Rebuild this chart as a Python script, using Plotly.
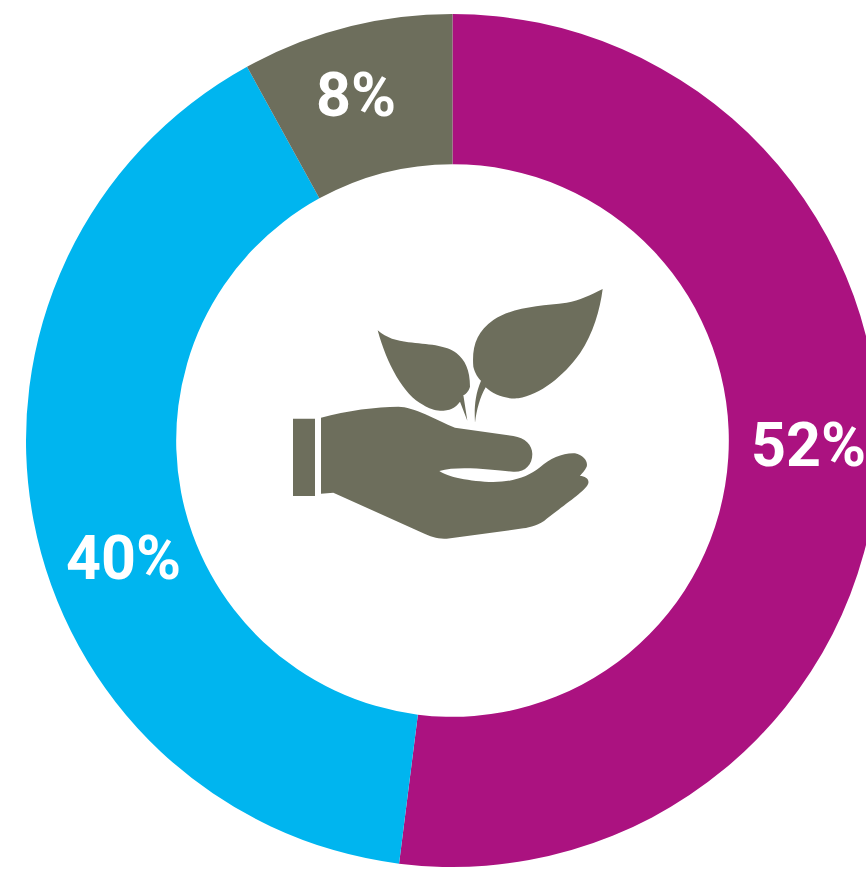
import re
import plotly.graph_objects as go

# Share of each group around the ring, clockwise from twelve o'clock
categories = ["A", "B", "C"]
shares = [52, 40, 8]
slice_colors = ["#AB1280", "#00B5EF", "#6D6E5C"]
share_labels = ["52%", "40%", "8%"]

ICON_COLOR = "#6D6E5C"
FIG_W, FIG_H = 905, 869
TOP, BOTTOM = 14, 2
PLOT_H = FIG_H - TOP - BOTTOM


def to_paper(px, py):
    return px / FIG_W, (FIG_H - BOTTOM - py) / PLOT_H


def icon_path(d):
    """Turn a path drawn on a 3x grid anchored at (280, 280) into paper coordinates."""
    is_x = True

    def convert(match):
        nonlocal is_x
        token = match.group(0)
        if token.isalpha():
            is_x = True
            return token
        value = float(token)
        if is_x:
            is_x = False
            return f"{(280 + value / 3) / FIG_W:.5f}"
        is_x = True
        return f"{(FIG_H - BOTTOM - (280 + value / 3)) / PLOT_H:.5f}"

    return re.sub(r"[A-Za-z]|-?\d+\.?\d*", convert, d)


# Open hand holding a seedling, placed in the hole of the ring
CUFF = "M39 416 L105 416 L105 648 L39 648 Z"
HAND = (
    "M123 413 C200 392 290 380 355 380 C400 380 470 420 525 443 L700 468 "
    "C735 473 757 495 757 522 C757 555 735 577 700 575 C650 572 540 555 478 573 "
    "C500 590 570 605 640 606 C700 606 745 590 780 562 C810 535 850 518 885 520 "
    "C910 525 925 545 920 560 C915 572 905 580 900 588 C915 588 928 597 925 610 "
    "C920 630 860 670 800 716 C780 735 750 742 730 745 L500 776 "
    "C475 778 450 770 430 760 L160 638 L123 641 Z"
)
SMALL_LEAF = (
    "M293 151 C320 175 350 182 385 187 C440 193 500 195 530 220 "
    "C555 240 570 270 570 320 C566 335 555 345 550 345 L562 422 L540 365 "
    "C525 385 510 392 480 392 C465 392 445 385 430 375 C370 345 320 250 293 151 Z"
)
BIG_LEAF = (
    "M968 27 C930 45 900 62 860 68 C780 78 700 80 640 120 C590 155 575 200 580 260 "
    "C585 280 595 295 603 302 C583 350 583 390 585 428 C590 390 600 350 617 322 "
    "C640 345 680 358 715 355 C780 345 850 290 900 220 C940 160 960 90 968 27 Z"
)

fig = go.Figure(
    go.Pie(
        labels=categories,
        values=shares,
        sort=False,
        direction="clockwise",
        rotation=0,
        hole=276 / 426,
        marker=dict(colors=slice_colors, line=dict(width=0)),
        textinfo="none",
        hoverinfo="skip",
        showlegend=False,
        domain=dict(x=[0, 1], y=[0, 1]),
    )
)

fig.update_layout(
    width=FIG_W,
    height=FIG_H,
    margin=dict(l=0, r=0, t=TOP, b=BOTTOM, pad=0),
    paper_bgcolor="white",
    shapes=[
        dict(type="path", xref="paper", yref="paper", path=icon_path(p),
             fillcolor=ICON_COLOR, line=dict(width=0))
        for p in (CUFF, HAND, SMALL_LEAF, BIG_LEAF)
    ],
)

# Percentage labels sit at hand-picked spots on their slices
label_spots = [(808, 445), (124, 558), (356, 95)]
for text, (px, py) in zip(share_labels, label_spots):
    ax, ay = to_paper(px, py)
    fig.add_annotation(
        x=ax, y=ay, xref="paper", yref="paper", text=f"<b>{text}</b>",
        showarrow=False, xanchor="center", yanchor="middle",
        font=dict(family="Roboto", size=61, color="white"),
    )

fig.write_html(
    "out.html",
    config=dict(displayModeBar=False),
    post_script="document.documentElement.style.overflow='hidden';document.body.style.overflow='hidden';",
)
